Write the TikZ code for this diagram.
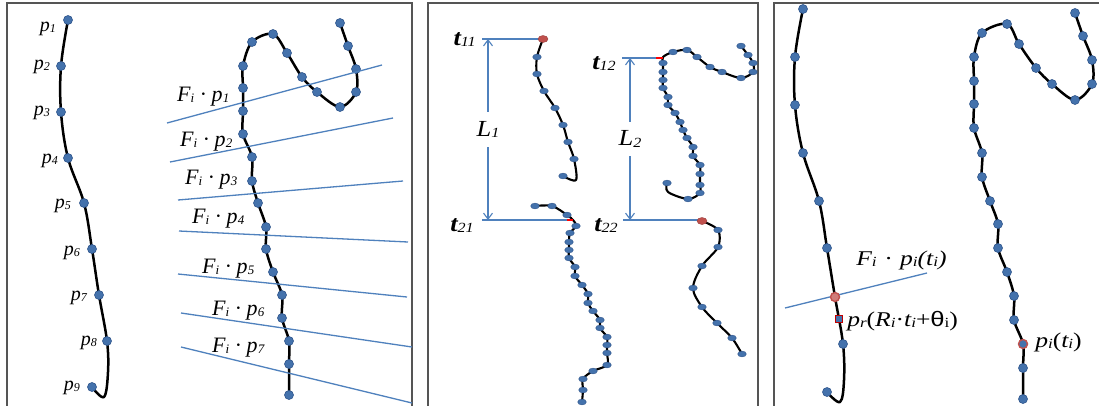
\documentclass[tikz,border=0pt]{standalone}
\usepackage{fontspec}
\setmainfont{Liberation Serif}
\newfontfamily\sansf{Liberation Sans}
\usetikzlibrary{arrows.meta}
\definecolor{dotfill}{RGB}{68,114,172}
\definecolor{dotdraw}{RGB}{47,85,140}
\definecolor{lineblue}{RGB}{79,129,189}
\definecolor{redd}{RGB}{192,80,77}
\definecolor{darkred}{RGB}{192,0,0}
\definecolor{framegray}{RGB}{85,85,85}
\newcommand\sbx[1]{\raisebox{-1.5pt}{\fontsize{12}{12}\selectfont #1}}
\newcommand\sbm[1]{\raisebox{-1.5pt}{\fontsize{13}{13}\selectfont #1}}
\newcommand\sbl[1]{\raisebox{-1.5pt}{\fontsize{14}{14}\selectfont #1}}
\newcommand\Fdot[1]{F\sbm{i}\hspace{6pt}·\hspace{6pt}p\sbm{#1}}
\begin{document}
\begin{tikzpicture}[x=1pt,y=-1pt,
  curve/.style={line width=2.5pt, black, line cap=round, line join=round},
  thincurve/.style={line width=2.1pt, black, line cap=round, line join=round},
  bline/.style={line width=1.3pt, lineblue},
  bigdot/.style={fill=dotfill, draw=dotdraw, line width=0.6pt},
  smalldot/.style={fill=dotfill, draw=dotdraw, line width=0.4pt},
  lab/.style={inner sep=0pt, font=\fontsize{20}{24}\selectfont\itshape},
  flab/.style={inner sep=0pt, font=\fontsize{22}{24}\selectfont\itshape},
  tlab/.style={inner sep=0pt, xscale=1.15, font=\fontsize{23}{26}\selectfont\itshape},
  wlab/.style={inner sep=0pt, xscale=1.22, font=\fontsize{21}{24}\selectfont\itshape},
  panel/.style={draw=framegray, line width=1.5pt},
  dimarrow/.style={lineblue, line width=1.1pt, {Straight Barb[length=6pt,width=9pt]}-{Straight Barb[length=6pt,width=9pt]}}]
\useasboundingbox (0,0) rectangle (1099,405);
\fill[white] (0,0) rectangle (1099,405);
\clip (0,0) rectangle (1099,405);

% ---------- frames ----------
\draw[panel] (7,412) -- (7,3) -- (412,3) -- (412,412);
\draw[panel] (428,412) -- (428,3) -- (758,3) -- (758,412);
\draw[panel] (774,412) -- (774,3) -- (1105,3);

% ---------- panel 1 ----------
\draw[curve] plot[smooth,tension=0.6] coordinates {(68,20)(61,66)(61,112)(68,158)(84,203)(92,249)(99,295)(107,341)(108,372)(104,397)(92,387)};
\foreach \x/\y in {68/20,61/66,61/112,68/158,84/203,92/249,99/295,107/341,92/387}
  \filldraw[bigdot] (\x,\y) circle (4.5pt);
\node[lab,anchor=base east] (lp1) at (56,31) {p\sbx{1}};
\node[lab,anchor=base east] (lp2) at (50,69) {p\sbx{2}};
\node[lab,anchor=base east] (lp3) at (50,115) {p\sbx{3}};
\node[lab,anchor=base east] (lp4) at (58,163) {p\sbx{4}};
\node[lab,anchor=base east] (lp5) at (71,208) {p\sbx{5}};
\node[lab,anchor=base east] (lp6) at (80,255) {p\sbx{6}};
\node[lab,anchor=base east] (lp7) at (87,300) {p\sbx{7}};
\node[lab,anchor=base east] (lp8) at (97,345) {p\sbx{8}};
\node[lab,anchor=base east] (lp9) at (80,390) {p\sbx{9}};

\draw[curve] plot[smooth,tension=0.55] coordinates {(289,395)(289,364)(289,341)(282,318)(282,295)(273,272)(266,249)(266,227)(258,203)(252,181)(252,157)(243,134)(243,111)(243,88)(243,66)(252,42)(273,34)(287,53)(302,77)(317,92)(340,107)(356,92)(356,69)(348,46)(340,23)};
\foreach \x/\y in {289/395,289/364,289/341,282/318,282/295,273/272,266/249,266/227,258/203,252/181,252/157,243/134,243/111,243/88,243/66,252/42,273/34,287/53,302/77,317/92,340/107,356/92,356/69,348/46,340/23}
  \filldraw[bigdot] (\x,\y) circle (4.5pt);

\draw[bline] (167,123) -- (382,65);
\draw[bline] (170,162) -- (393,118);
\draw[bline] (178,200) -- (403,181);
\draw[bline] (179,231) -- (408,242);
\draw[bline] (178,274) -- (407,297);
\draw[bline] (181,313) -- (412,347);
\draw[bline] (181,347) -- (412,403);
\node[flab,anchor=base west] (f1) at (177,101) {\Fdot{1}};
\node[flab,anchor=base west] (f2) at (180,146) {\Fdot{2}};
\node[flab,anchor=base west] (f3) at (185,184) {\Fdot{3}};
\node[flab,anchor=base west] (f4) at (192,223) {\Fdot{4}};
\node[flab,anchor=base west] (f5) at (202,273) {\Fdot{5}};
\node[flab,anchor=base west] (f6) at (212,315) {\Fdot{6}};
\node[flab,anchor=base west] (f7) at (212,352) {\Fdot{7}};

% ---------- panel 2 ----------
\coordinate (a11) at (482,39);  \coordinate (b11) at (543,39);
\coordinate (a21) at (482,220); \coordinate (b21) at (573,220);
\coordinate (a12) at (622,58);  \coordinate (b12) at (662,58);
\coordinate (a22) at (623,220); \coordinate (b22) at (702,220);
\draw[bline] (a11) -- (b11);
\draw[bline] (a21) -- (b21);
\draw[bline] (a12) -- (b12);
\draw[bline] (a22) -- (b22);
\coordinate (v1t) at (488,39);  \coordinate (v1b) at (488,220);
\coordinate (v2t) at (630,58);  \coordinate (v2b) at (630,220);
\draw[dimarrow] (v1t) -- node[fill=white,text=black,inner xsep=2pt,inner ysep=9pt,xscale=1.15,font=\fontsize{23}{26}\selectfont\itshape] (L1) {L\sbl{1}} (v1b);
\draw[dimarrow] (v2t) -- node[fill=white,text=black,inner xsep=2pt,inner ysep=9pt,xscale=1.15,font=\fontsize{23}{26}\selectfont\itshape] (L2) {L\sbl{2}} (v2b);
\node[tlab,anchor=base east] (t11) at (476,45) {{\bfseries t}\sbl{11}};
\node[tlab,anchor=base east] (t21) at (474,231) {{\bfseries t}\sbl{21}};
\node[tlab,anchor=base east] (t12) at (616,69) {{\bfseries t}\sbl{12}};
\node[tlab,anchor=base east] (t22) at (618,231) {{\bfseries t}\sbl{22}};

% curve 1
\draw[thincurve] plot[smooth,tension=0.55] coordinates {(543,39)(537,57)(537,74)(544,91)(555,108)(563,125)(568,142)(574,159)(576,180)(563,176)};
\foreach \x/\y in {537/57,537/74,544/91,555/108,563/125,568/142,574/159,563/176}
  \filldraw[smalldot] (\x,\y) ellipse [x radius=4.3pt, y radius=2.9pt];
\filldraw[fill=redd,draw=redd!80!black,line width=0.4pt] (b11) ellipse [x radius=5pt, y radius=3.5pt];

% curve 2
\draw[thincurve] plot[smooth,tension=0.55] coordinates {(535,206)(552,206)(567,215)(573,220)(576,226)(570,233)(569,242)(569,250)(569,258)(575,267)(575,276)(582,285)(588,294)(588,303)(593,311)(600,320)(600,328)(607,337)(607,345)(607,353)(607,365)(593,371)(583,379)(583,390)(582,402)};
\foreach \x/\y in {535/206,552/206,567/215,576/226,570/233,569/242,569/250,569/258,575/267,575/276,582/285,588/294,588/303,593/311,600/320,600/328,607/337,607/345,607/353,607/365,593/371,583/379,583/390,582/402}
  \filldraw[smalldot] (\x,\y) ellipse [x radius=4.3pt, y radius=2.9pt];
\draw[red,line width=2pt] (567,220) -- (b21);

% curve 3
\draw[thincurve] plot[smooth,tension=0.55] coordinates {(741,46)(748,55)(753,63)(753,72)(741,78)(722,72)(710,67)(697,57)(687,50)(673,52)(663,57)(663,63)(663,72)(663,80)(663,88)(668,97)(668,105)(675,113)(680,122)(683,130)(687,138)(693,147)(693,156)(700,165)(700,174)(700,185)(700,193)(688,199)(668,192)(667,183)};
\foreach \x/\y in {741/46,748/55,753/63,753/72,741/78,722/72,710/67,697/57,687/50,673/52,663/63,663/72,663/80,663/88,668/97,668/105,675/113,680/122,683/130,687/138,693/147,693/156,700/165,700/174,700/185,700/193,688/199,667/183}
  \filldraw[smalldot] (\x,\y) ellipse [x radius=4.3pt, y radius=2.9pt];
\draw[red,line width=2pt] (656,58) -- (663,58);

% curve 4
\draw[thincurve] plot[smooth,tension=0.55] coordinates {(702,221)(718,230)(718,247)(702,266)(693,288)(702,307)(717,323)(732,338)(742,354)};
\foreach \x/\y in {718/230,718/247,702/266,693/288,702/307,717/323,732/338,742/354}
  \filldraw[smalldot] (\x,\y) ellipse [x radius=4.3pt, y radius=2.9pt];
\filldraw[fill=redd,draw=redd!80!black,line width=0.4pt] (702,221) ellipse [x radius=5pt, y radius=3.5pt];

% ---------- panel 3 ----------
\draw[curve] plot[smooth,tension=0.6] coordinates {(803,9)(795,57)(795,105)(803,153)(819,201)(827,248)(835,297)(843,344)(844,380)(840,402)(827,392)};
\foreach \x/\y in {803/9,795/57,795/105,803/153,819/201,827/248,843/344,827/392}
  \filldraw[bigdot] (\x,\y) circle (4.5pt);
\coordinate (lA) at (785,308); \coordinate (lB) at (927,273);
\draw[bline] (lA) -- (lB);
\filldraw[fill=redd!75!white,draw=redd,line width=1.4pt] (835,297) circle (4.5pt);
\filldraw[fill=dotfill,draw=darkred,line width=1.4pt] (835.5,315.5) rectangle (842.5,322.5);
\node[wlab,anchor=base west] (fpt) at (856,265) {F\sbl{i}\hspace{7pt}·\hspace{7pt}p\sbl{i}(t\sbl{i})};
\node[wlab,anchor=base west] (prl) at (847,326) {p\sbl{r}{\upshape(}R\sbl{i}{\upshape·}t\sbl{i}{\upshape+}{\upshape\sansf θ}\sbl{\upshape i}{\upshape)}};

\draw[curve] plot[smooth,tension=0.55] coordinates {(1023,399)(1023,368)(1023,344)(1014,320)(1014,296)(1007,272)(998,248)(998,224)(990,201)(982,177)(982,153)(974,128)(974,104)(974,81)(974,57)(982,33)(1007,24)(1019,44)(1036,68)(1052,84)(1075,100)(1092,84)(1092,60)(1083,36)(1075,13)};
\foreach \x/\y in {1023/399,1023/368,1014/320,1014/296,1007/272,998/248,998/224,990/201,982/177,982/153,974/128,974/104,974/81,974/57,982/33,1007/24,1019/44,1036/68,1052/84,1075/100,1092/84,1092/60,1083/36,1075/13}
  \filldraw[bigdot] (\x,\y) circle (4.5pt);
\filldraw[fill=dotfill,draw=redd,line width=1.4pt] (1023,344) circle (4.5pt);
\node[wlab,anchor=base west] (pit) at (1035,347) {p\sbl{i}{\upshape(}t\sbl{i}{\upshape)}};
\end{tikzpicture}
\end{document}
